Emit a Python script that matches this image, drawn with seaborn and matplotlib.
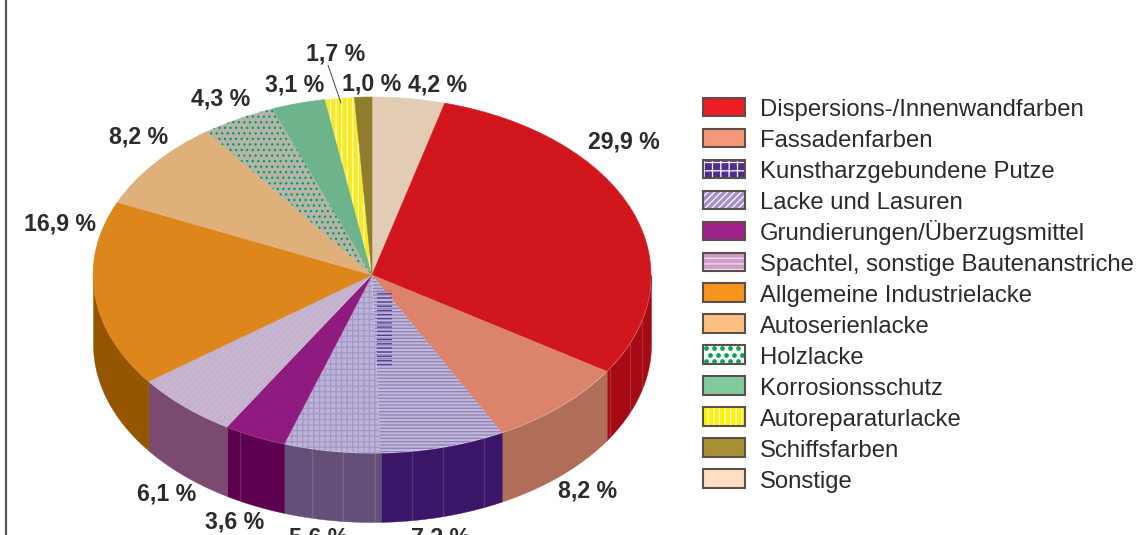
# Marktanteile Lacke und Farben - 3D-Torte
import numpy as np
import seaborn as sns
import matplotlib.pyplot as plt
from matplotlib.lines import Line2D
from matplotlib.patches import Rectangle

# im Uhrzeigersinn ab 12 Uhr
slices = ["Sonstige", "Dispersions-/Innenwandfarben", "Fassadenfarben", "Kunstharzgebundene Putze",
          "Lacke und Lasuren", "Grundierungen/Überzugsmittel", "Spachtel, sonstige Bautenanstriche",
          "Allgemeine Industrielacke", "Autoserienlacke", "Holzlacke", "Korrosionsschutz",
          "Autoreparaturlacke", "Schiffsfarben"]
shares = [4.2, 29.9, 8.2, 7.2, 5.6, 3.6, 6.1, 16.9, 8.2, 4.3, 3.1, 1.7, 1.0]
share_labels = ["4,2 %", "29,9 %", "8,2 %", "7,2 %", "5,6 %", "3,6 %", "6,1 %",
                "16,9 %", "8,2 %", "4,3 %", "3,1 %", "1,7 %", "1,0 %"]
label_px = [(438, 85), (624, 142), (588, 491), (441, 538), (319, 538), (235, 522), (167, 494),
            (60, 224), (139, 137), (221, 99), (295, 85), (336, 54), (372, 84)]

top_colors = ["#e2cdb4", "#d2161e", "#db846b", "#c0b8d6", "#bdb3d6", "#8f1a80", "#c2b2cc",
              "#dc861b", "#dfb07a", "#b4b4ac", "#6db38c", "#f7e92a", "#8f7c2f"]
top_hatch = [None, None, None, "-----", "+++", None, "/////", None, None, "...", None, "|||", None]
top_hatch_colors = [None, None, None, "#8f7fbc", "#a596c8", None, "#cfb6d6", None, None, "#00a04a",
                    None, "#fffbb0", None]
side_colors = ["#b8a68e", "#a60a12", "#b06e58", "#3b1668", "#644f78", "#5e0050", "#7a4a70",
               "#945600", "#b08850", "#608070", "#4c8a66", "#b8a800", "#665820"]

legend_order = [1, 2, 3, 4, 5, 6, 7, 8, 9, 10, 11, 12, 0]
legend_colors = ["#fedfc3", "#ed1c24", "#f7977a", "#4f2d8f", "#a48fcb", "#a0228c", "#cf9bc9",
                 "#f7941d", "#fdc082", "#ffffff", "#82ca9c", "#fff200", "#a68f35"]
legend_hatch = [None, None, None, "++", "/////", None, "---", None, None, None, None, "|||", None]
legend_hatch_colors = [None, None, None, "#ffffff", "#ffffff", None, "#f2dff0", None, None,
                       None, None, "#ffffff", None]

# Rillen in der Seitenwand (x in Pixel)
facets_px = [610, 630, 642, 412, 443, 484, 312, 343, 375, 240]

W, H = 1138, 535
cx, cy, rx, ry, depth = 372, 275, 279, 178, 69


class Swatch:
    # Farbfeld kleiner als die Legendenzeile, damit alle Zeilen gleich hoch bleiben
    def legend_artist(self, legend, orig, fontsize, handlebox):
        i = orig[0]
        w, h = handlebox.width, 13.0
        x0 = -handlebox.xdescent
        y0 = -handlebox.ydescent + (handlebox.height - h) / 2 + 1.2
        tr = handlebox.get_transform()
        handlebox.add_artist(Rectangle((x0, y0), w, h, facecolor=legend_colors[i],
                                       edgecolor=legend_hatch_colors[i] or legend_colors[i],
                                       hatch=legend_hatch[i], lw=0, transform=tr))
        if slices[i] == "Holzlacke":
            for r in range(3):
                xs = np.arange(x0 + 2 + 2.9 * (r % 2), x0 + w - 1, 5.8)
                handlebox.add_artist(Line2D(xs, np.full_like(xs, y0 + h * (r * 2 + 1) / 6), ls="none",
                                            marker="o", ms=3.4, mfc="#00a651", mec="none", transform=tr))
        edge = Rectangle((x0, y0), w, h, fill=False, edgecolor="#5a5048", lw=1.5, transform=tr)
        handlebox.add_artist(edge)
        return edge


sns.set_theme(style="white", rc={"hatch.linewidth": 0.9})
plt.rcParams["font.family"] = ["Liberation Sans", "DejaVu Sans"]

fig = plt.figure(figsize=(W / 100, H / 100), dpi=100)
ax = fig.add_axes([0, 0, 1, 1])

wedges, _ = ax.pie(shares, startangle=90, counterclock=False, radius=1,
                   colors=sns.color_palette(top_colors))
for w, col, h, hc in zip(wedges, top_colors, top_hatch, top_hatch_colors):
    if h:
        w.set_hatch(h)
        w.set_edgecolor(hc)
        w.set_linewidth(0)
    else:
        w.set_edgecolor(col)
        w.set_linewidth(0.4)

# Ellipse kommt allein aus den Achsengrenzen
ax.set_aspect("auto")
ax.set_xlim(-cx / rx, (W - cx) / rx)
ax.set_ylim((cy - H) / ry, cy / ry)

# Seitenwand: nur die vordere Haelfte ist sichtbar
h_side = depth / ry
bounds = np.concatenate([[0], np.cumsum(shares)]) / sum(shares) * 360
for a, b, col in zip(bounds[:-1], bounds[1:], side_colors):
    lo, hi = max(a, 90), min(b, 270)
    if hi <= lo:
        continue
    t = np.radians(np.linspace(lo, hi, 60))
    x, y = np.sin(t), np.cos(t)
    ax.fill_between(x, y, y - h_side, color=col, lw=0.3, zorder=0)

fx = (np.array(facets_px) - cx) / rx
fy = -np.sqrt(1 - fx ** 2)
ax.vlines(fx, fy - h_side, fy, color="white", alpha=0.14, lw=0.9, zorder=0.5)

# dunkler Moire-Streifen in den Putzen
ax.fill_between((np.array([377, 392]) - cx) / rx, (cy - 290) / ry, (cy - 368) / ry,
                facecolor="none", edgecolor="#5a3c98", hatch="----", lw=0, zorder=2)

for txt, (px, py) in zip(share_labels, label_px):
    fig.text(px / W, 1 - py / H, txt, ha="center", va="center", fontsize=16.7,
             fontweight="bold", color="#2b2b2b")

# Hinweislinie 1,7 %, Rand links
fig.add_artist(Line2D([328 / W, 341 / W], [1 - 65 / H, 1 - 103 / H], color="#444444", lw=0.7))
fig.add_artist(Line2D([5.5 / W, 5.5 / W], [0, 1], color="#555555", lw=1.6))

handles = [(i,) for i in legend_order]
names = [slices[i] for i in legend_order]
fs = 17.2
row_pt = 31.08 * 0.72
leg = ax.legend(handles, names, handler_map={tuple: Swatch()},
                loc="upper left", bbox_to_anchor=(703 / W, 1 - 96 / H), borderaxespad=0, borderpad=0,
                frameon=False, fontsize=fs, handlelength=30 / fs, handleheight=1.2,
                handletextpad=10.8 / fs, labelspacing=(row_pt - 1.2 * fs) / fs + 0.137, labelcolor="#2b2b2b")

fig.savefig("out.png", dpi=100)
